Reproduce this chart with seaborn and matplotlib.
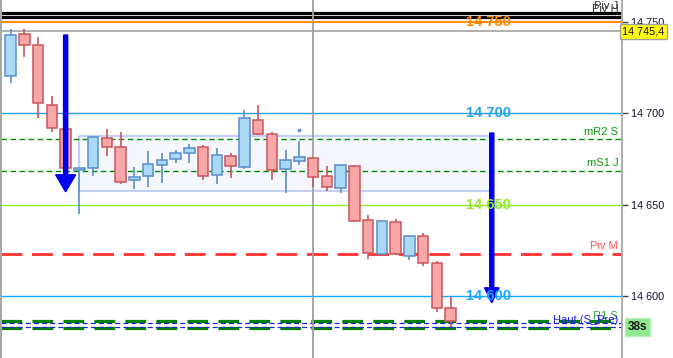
import matplotlib
matplotlib.use("Agg")
import matplotlib.pyplot as plt
import seaborn as sns
import pandas as pd

# candle data (index = bar number)
opens = [14720.4, 14743.4, 14737.4, 14704.5, 14691.3, 14669.3, 14670.3, 14686.4, 14681.5, 14663.4, 14665.6,
         14671.6, 14674.9, 14678.2, 14681.5, 14666.1, 14676.5, 14670.5, 14696.4, 14688.6, 14669.4, 14673.8,
         14675.4, 14665.6, 14659.0, 14671.1, 14641.5, 14622.8, 14640.4, 14622.1, 14632.7, 14618.1, 14593.4]
highs = [14746.3, 14746.3, 14741.9, 14709.6, 14691.5, 14670.1, 14687.1, 14691.5, 14689.9, 14670.7, 14679.5,
         14678.4, 14680.0, 14683.3, 14682.7, 14680.9, 14678.4, 14701.9, 14704.7, 14689.7, 14680.0, 14684.9,
         14676.2, 14671.2, 14671.8, 14671.8, 14644.4, 14641.0, 14642.2, 14632.8, 14634.5, 14619.2, 14599.6]
lows = [14716.5, 14731.1, 14697.7, 14689.7, 14669.9, 14644.8, 14665.9, 14676.9, 14661.5, 14658.8, 14659.9,
        14662.1, 14673.0, 14673.0, 14663.7, 14661.5, 14664.8, 14669.6, 14688.4, 14663.6, 14656.6, 14671.9,
        14659.9, 14657.7, 14656.3, 14640.8, 14620.4, 14622.7, 14622.7, 14619.7, 14616.6, 14591.4, 14583.2]
closes = [14743.0, 14737.4, 14705.6, 14691.9, 14670.0, 14669.9, 14687.0, 14681.8, 14662.6, 14665.0, 14672.2,
          14674.4, 14678.2, 14681.1, 14665.6, 14677.1, 14671.1, 14697.4, 14688.9, 14668.9, 14674.4, 14676.0,
          14665.0, 14659.6, 14671.6, 14640.9, 14623.4, 14640.9, 14622.8, 14632.7, 14617.9, 14593.3, 14586.3]

# round-number levels
round_levels = [14750, 14700, 14650, 14600]
round_labels = ["14 750", "14 700", "14 650", "14 600"]
round_colors = ["#ff8a00", "#25a3e6", "#8fe82a", "#14a8ff"]

# pivot levels
pivot_black = [14754.9, 14752.7]
pivot_names_top = ["Piv J", "Piv H"]
current_price = 14745.4
mr2_s = 14685.8
ms1_j = 14668.6
piv_m = 14623.0
r1_s = [14586.3, 14582.5]
haut_s_pre = [14585.1, 14583.2]

# zone + arrows
zone_x = [5.0, 34.9]
zone_y = [14657.5, 14687.7]
arrow1 = [4, 14743.0, 14657.1]
arrow2 = [35, 14689.3, 14596.3]
dot_bar, dot_price = 21, 14691.1
session_bar = 22

df = pd.DataFrame({"open": opens, "high": highs, "low": lows, "close": closes})
df["bar"] = range(len(df))
df["up"] = df["close"] >= df["open"]

sns.set_style("white")
plt.rcParams["font.family"] = ["Liberation Sans", "DejaVu Sans"]

fig = plt.figure(figsize=(6.73, 3.58), dpi=100)
ax = fig.add_axes([0.002, 0.0, 621 / 673, 1.0])
ax.set_xlim(-0.676, 44.5)
ax.set_ylim(14566.0, 14762.2)

# zone
ax.fill_between(zone_x, zone_y[0], zone_y[1], color="#f5f7fd", edgecolor="#b8c6f2", lw=1.2, zorder=1)

# horizontal levels
for y in pivot_black:
    ax.axhline(y, color="black", lw=2.3, zorder=2)
for y, lab, c in zip(round_levels, round_labels, round_colors):
    ax.axhline(y, color=c, lw=1.5 if y == 14750 else 1.0, zorder=2)
    ax.text(34.74, y, lab, color=c, fontsize=10.5, fontweight="bold", ha="center", va="center", zorder=6)
ax.axhline(current_price, color="#a8a8a8", lw=1.3, zorder=2)
ax.axhline(mr2_s, color="#008a00", lw=1.0, ls=(0, (4, 2.5)), zorder=2)
ax.axhline(ms1_j, color="#008a00", lw=1.0, ls=(0, (4, 2.5)), zorder=2)
ax.axhline(piv_m, color="#ff3030", lw=2.0, ls=(0, (7.5, 3.5)), zorder=2)
for y in r1_s:
    ax.axhline(y, color="#008000", lw=2.3, ls=(0, (6.5, 3.2)), zorder=2)
for y in haut_s_pre:
    ax.axhline(y, color="#2020dd", lw=0.9, ls=(0, (4, 2.5)), zorder=2)
ax.axvline(session_bar, color="#a0a0a0", lw=1.3, zorder=2)

# candles
up = df[df["up"]]
dn = df[~df["up"]]
ax.vlines(up["bar"], up["low"], up["high"], color="#5b8ec9", lw=1.2, zorder=3)
ax.vlines(dn["bar"], dn["low"], dn["high"], color="#c9565c", lw=1.2, zorder=3)
ax.bar(up["bar"], (up["close"] - up["open"]).clip(lower=0.8), bottom=up["open"], width=0.76,
       color="#aad8f7", edgecolor="#5b8ec9", lw=1.1, zorder=4)
ax.bar(dn["bar"], dn["close"] - dn["open"], bottom=dn["open"], width=0.76,
       color="#f7a7a7", edgecolor="#c9565c", lw=1.1, zorder=4)
ax.plot([dot_bar], [dot_price], marker="s", ms=2, color="#5b8ee0", zorder=4)

# arrows
ax.arrow(arrow1[0], arrow1[1], 0, arrow1[2] - arrow1[1], width=0.3, head_width=1.45, head_length=9.3,
         length_includes_head=True, color="#0000ee", zorder=5)
ax.arrow(arrow2[0], arrow2[1], 0, arrow2[2] - arrow2[1], width=0.3, head_width=1.05, head_length=8.2,
         length_includes_head=True, color="#0000ee", zorder=5)

# level names on the right
xr = 44.2
ax.text(xr, pivot_black[0] + 1.4, pivot_names_top[0], color="#333333", fontsize=8, ha="right", va="bottom", zorder=6)
ax.text(xr, pivot_black[0] - 0.4, pivot_names_top[1], color="#333333", fontsize=8, ha="right", va="bottom", zorder=6)
ax.text(xr, mr2_s + 1.5, "mR2 S", color="#0c9a0c", fontsize=8, ha="right", va="bottom", zorder=6)
ax.text(xr, ms1_j + 1.5, "mS1 J", color="#0c9a0c", fontsize=8, ha="right", va="bottom", zorder=6)
ax.text(xr, piv_m + 1.5, "Piv M", color="#ff5a5a", fontsize=8, ha="right", va="bottom", zorder=6)
ax.text(xr, r1_s[0] + 0.2, "R1 S", color="#3aa03a", fontsize=8, ha="right", va="bottom", zorder=6)
ax.text(xr, haut_s_pre[0] - 1.0, "Haut (S_Pre)", color="#2020ee", fontsize=8, ha="right", va="bottom", zorder=6)

# right axis
ax.yaxis.tick_right()
ax.set_yticks(round_levels)
ax.set_yticklabels(round_labels)
ax.tick_params(axis="y", length=4, width=1, color="#444444", labelsize=7.8, labelcolor="#1a1030", pad=2, right=True)
ax.set_xticks([])
for s in ["top", "bottom"]:
    ax.spines[s].set_visible(False)
ax.spines["right"].set_color("#a8a8a8")
ax.spines["right"].set_linewidth(1.3)
ax.spines["left"].set_color("#a8a8a8")
ax.spines["left"].set_linewidth(1.5)

# price box and timer box
ax.text(1.0, current_price - 0.6, "14 745,4", transform=ax.get_yaxis_transform(), fontsize=7.8,
        color="#1a1030", ha="left", va="center", zorder=7,
        bbox=dict(boxstyle="square,pad=0.22", fc="#ffff00", ec="#a0a0a0", lw=1.0), clip_on=False)
ax.text(1.009, 14583.0, "38s", transform=ax.get_yaxis_transform(), fontsize=8.5, fontweight="bold",
        color="#1a1a1a", ha="left", va="center", zorder=7,
        bbox=dict(boxstyle="square,pad=0.25", fc="#90e890", ec="#b8eeb8", lw=1.0), clip_on=False)

fig.savefig("out.png", dpi=100)
